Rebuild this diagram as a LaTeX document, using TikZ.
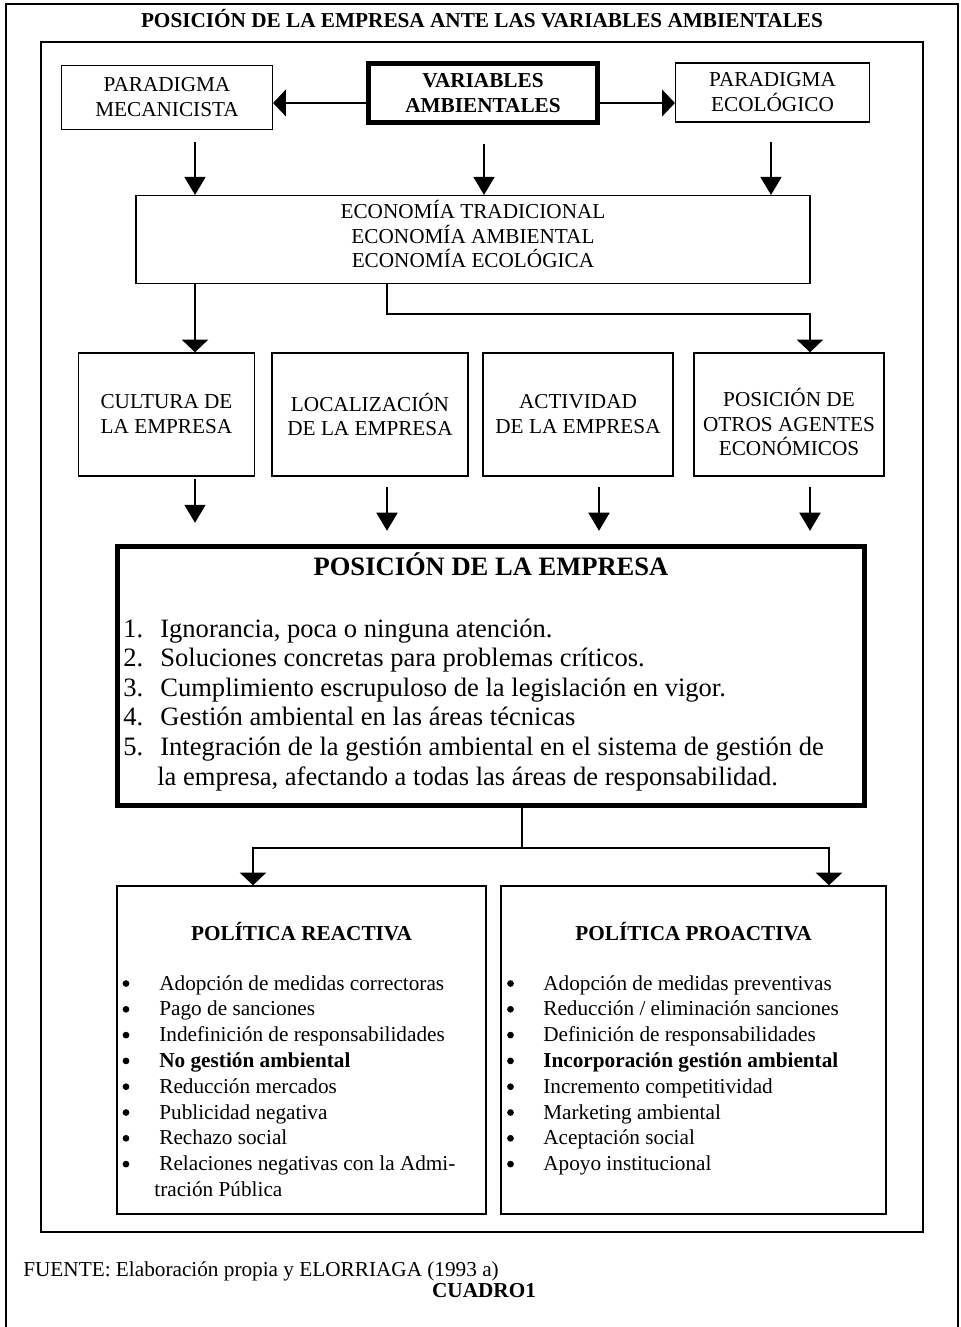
\documentclass[tikz,border=0pt]{standalone}
\usepackage{fontspec}
\setmainfont{Liberation Serif}
\usetikzlibrary{arrows.meta}

\tikzset{
  txt/.style={inner sep=0pt, font=\fontsize{12}{14.1}\selectfont},
  txtb/.style={inner sep=0pt, font=\fontsize{12}{14.1}\selectfont\bfseries},
  bigtxt/.style={inner sep=0pt, font=\fontsize{15}{17}\selectfont},
  bigtxtb/.style={inner sep=0pt, font=\fontsize{15}{17}\selectfont\bfseries},
  box/.style={draw, line width=0.85pt, inner sep=0pt, align=center, font=\fontsize{12}{14.1}\selectfont},
  thickbox/.style={box, line width=2.8pt},
  dot/.style={circle, fill, inner sep=0pt, minimum size=3.8pt},
  flatarr/.style={line width=0.85pt, -{Triangle[length=7.2pt,width=15pt]}},
  tallarr/.style={line width=0.85pt, -{Triangle[length=10.2pt,width=11.9pt]}},
}

\begin{document}
\begin{tikzpicture}[x=0.565pt, y=-0.565pt]
\useasboundingbox (0,0) rectangle (961,1327);
% frames
\draw[line width=0.85pt] (6,1340) |- (958,4) -- (958,1340);
\draw[line width=0.85pt] (41,42) rectangle (923,1232);
\node[txtb, anchor=base] (titulo) at (482,27) {POSICIÓN DE LA EMPRESA ANTE LAS VARIABLES AMBIENTALES};

% top row
\node[box, minimum width=119pt, minimum height=36pt] (mec) at (167,97.5) {PARADIGMA\\MECANICISTA};
\node[thickbox, font=\fontsize{12}{14.1}\selectfont\bfseries, minimum width=129.4pt, minimum height=33.3pt] (var) at (483,93) {VARIABLES\\AMBIENTALES};
\node[box, minimum width=109.4pt, minimum height=33.6pt] (ecol) at (772.5,92.5) {PARADIGMA\\ECOLÓGICO};
\node[box, minimum width=381pt, minimum height=49.5pt] (econ) at (473,239.5) {};
\node[txt, align=center] (econt) at (473,234) {ECONOMÍA TRADICIONAL\\ECONOMÍA AMBIENTAL\\ECONOMÍA ECOLÓGICA};

\coordinate (h) at (0,103);
\draw[flatarr] (var.west |- h) -- (mec.east |- h);
\draw[flatarr] (var.east |- h) -- (ecol.west |- h);

\coordinate (c1) at (195,0);
\coordinate (c2) at (484,0);
\coordinate (c3) at (771,0);
\draw[tallarr, shorten <=6.8pt] (mec.south -| c1) -- (econ.north -| c1);
\draw[tallarr, shorten <=11pt] (var.south -| c2) -- (econ.north -| c2);
\draw[tallarr, shorten <=10.7pt] (ecol.south -| c3) -- (econ.north -| c3);

% second row
\node[box, minimum width=99.2pt, minimum height=69.5pt] (cul) at (166.5,414.5) {CULTURA DE\\LA EMPRESA};
\node[box, minimum width=111pt, minimum height=69.5pt] (loc) at (370,414.5) {LOCALIZACIÓN\\DE LA EMPRESA};
\node[box, minimum width=107.6pt, minimum height=69.5pt] (act) at (578,414.5) {ACTIVIDAD\\DE LA EMPRESA};
\node[box, minimum width=107.6pt, minimum height=69.5pt] (otr) at (789,414.5) {};
\node[txt, align=center] (otrt) at (789,422) {POSICIÓN DE\\OTROS AGENTES\\ECONÓMICOS};

% posicion de la empresa
\node[thickbox, minimum width=422pt, minimum height=146.3pt] (pos) at (491,676) {};
\node[bigtxtb, anchor=base] (post) at (491,575) {POSICIÓN DE LA EMPRESA};
\foreach \itm [count=\i from 0] in {{Ignorancia, poca o ninguna atención.},
    {Soluciones concretas para problemas críticos.},
    {Cumplimiento escrupuloso de la legislación en vigor.},
    {Gestión ambiental en las áreas técnicas},
    {Integración de la gestión ambiental en el sistema de gestión de}} {
  \pgfmathtruncatemacro\k{\i+1}
  \node[bigtxt, anchor=base west] (n\k) at (123,637+29.6*\i) {\k.};
  \node[bigtxt, anchor=base west] (l\k) at (160,637+29.6*\i) {\itm};
}
\node[bigtxt, anchor=base west] (l6) at (157,785) {la empresa, afectando a todas las áreas de responsabilidad.};

\foreach \x [count=\i] in {195,387,599,810}
  \coordinate (x\i) at (\x,0);
\coordinate (e1) at (387,314);
\draw[flatarr] (econ.south -| x1) -- (cul.north -| x1);
\draw[flatarr] (econ.south -| e1) -- (e1) -| (otr.north -| x4);

\foreach \b/\i/\s/\e in {cul/1/1/12, loc/2/6/7.5, act/3/6/7.5, otr/4/6/7.5}
  \draw[tallarr, shorten <=\s pt, shorten >=\e pt] (\b.south -| x\i) -- (pos.north -| x\i);

% politicas
\node[box, minimum width=208.5pt, minimum height=185.3pt] (rea) at (301.5,1050) {};
\node[box, minimum width=217.5pt, minimum height=185.3pt] (pro) at (693.5,1050) {};
\node[txtb, anchor=base] (reat) at (301.5,940) {POLÍTICA REACTIVA};
\node[txtb, anchor=base] (prot) at (693.5,940) {POLÍTICA PROACTIVA};

\coordinate (s0) at (522,848);
\coordinate (s1) at (253,848);
\coordinate (s2) at (829,848);
\draw[flatarr] (pos.south -| s0) -- (s0) -| (rea.north -| s1);
\draw[flatarr] (s0) -| (pro.north -| s2);

\foreach \itm [count=\i from 0] in {Adopción de medidas correctoras, Pago de sanciones,
    Indefinición de responsabilidades, \textbf{No gestión ambiental}, Reducción mercados,
    Publicidad negativa, Rechazo social, Relaciones negativas con la Admi-} {
  \node[dot] (rb\i) at (126,983.5+25.8*\i) {};
  \node[txt, anchor=base west] (rl\i) at (159,990+25.8*\i) {\itm};
}
\node[txt, anchor=base west] (rl8) at (154,1196.7) {tración Pública};

\foreach \itm [count=\i from 0] in {Adopción de medidas preventivas, Reducción / eliminación sanciones,
    Definición de responsabilidades, \textbf{Incorporación gestión ambiental}, Incremento competitividad,
    Marketing ambiental, Aceptación social, Apoyo institucional} {
  \node[dot] (pb\i) at (510.5,983.5+25.8*\i) {};
  \node[txt, anchor=base west] (pl\i) at (543,990+25.8*\i) {\itm};
}

% pie
\node[txt, anchor=base west] (fuente) at (23,1276) {FUENTE: Elaboración propia y ELORRIAGA (1993 a)};
\node[txtb, anchor=base] (cuadro) at (484,1297) {CUADRO1};
\end{tikzpicture}
\end{document}
